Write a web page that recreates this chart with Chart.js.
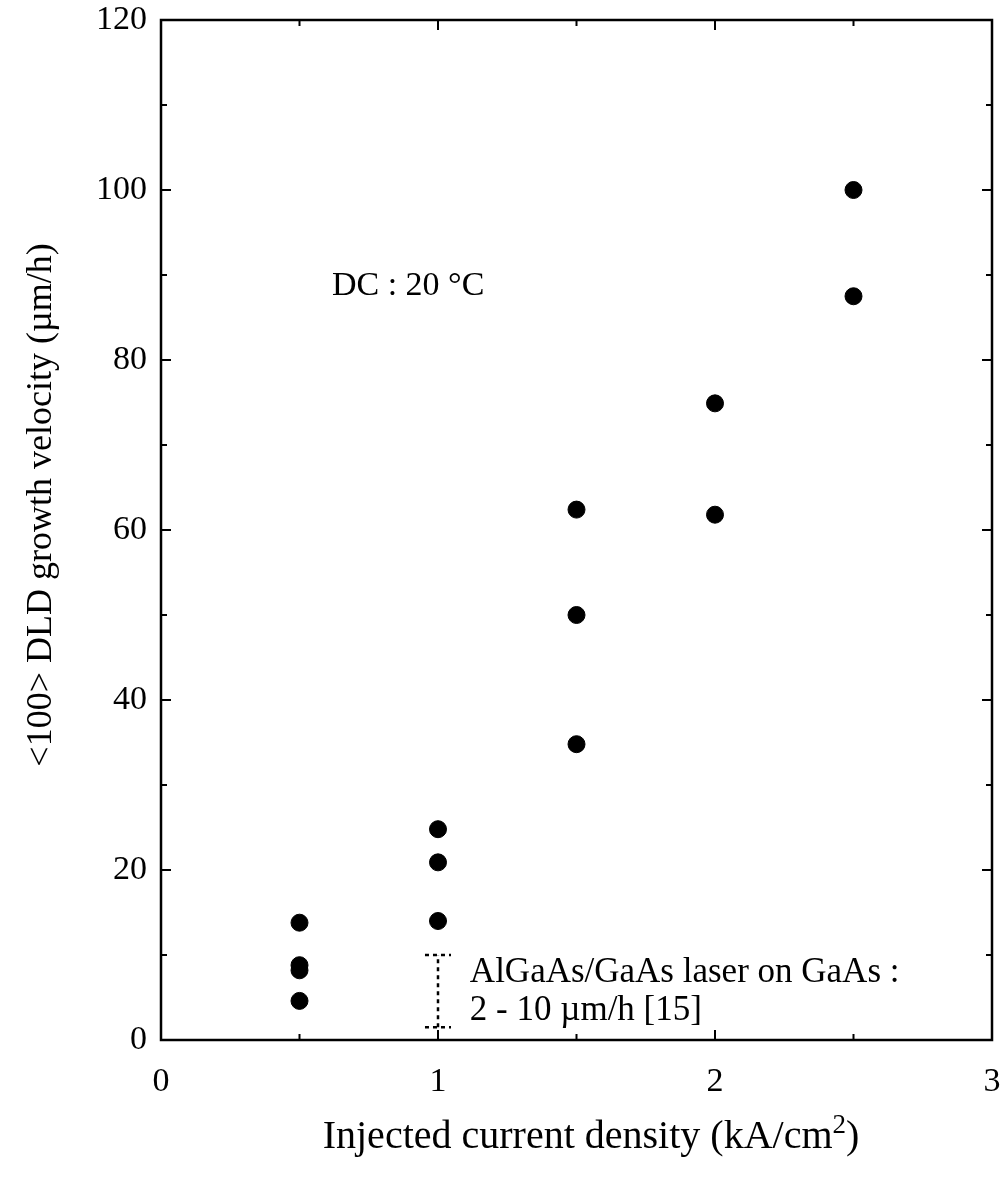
<!DOCTYPE html>
<html>
<head>
<meta charset="utf-8">
<script src="https://cdn.jsdelivr.net/npm/chart.js@4/dist/chart.umd.min.js"></script>
<style>
  body { margin: 0; background: #fff; }
  #wrap { width: 1005px; height: 1185px; position: relative; }
</style>
</head>
<body>
<div id="wrap"><canvas id="grafico"></canvas></div>
<script>
// valores
const densidade = [0.5, 0.5, 0.5, 0.5, 1, 1, 1, 1.5, 1.5, 1.5, 2, 2, 2.5, 2.5];
const velocidade = [13.8, 8.8, 8.2, 4.6, 24.8, 20.9, 14, 62.4, 50, 34.8, 74.9, 61.8, 100, 87.5];

// faixa da referência [15] (AlGaAs/GaAs em GaAs)
const refX = 1;
const refMin = 1.5;
const refMax = 10;
const refCap = 0.047;

const xTicks = [0, 1, 2, 3];
const yTicks = [0, 20, 40, 60, 80, 100, 120];

const fonte = "'Liberation Serif', 'Times New Roman', serif";

const pontos = densidade.map((d, i) => ({ x: d, y: velocidade[i] }));

// moldura e marcas internas nos quatro lados
const moldura = {
  id: 'moldura',
  afterDatasetsDraw(chart) {
    const { ctx, chartArea: a, scales: { x, y } } = chart;
    ctx.save();
    ctx.strokeStyle = '#000';
    ctx.lineWidth = 2.5;
    ctx.strokeRect(a.left, a.top, a.right - a.left, a.bottom - a.top);
    ctx.lineWidth = 2;
    for (let v = 0; v <= 120; v += 10) {
      const py = y.getPixelForValue(v);
      const len = v % 20 === 0 ? 10 : 6;
      ctx.beginPath();
      ctx.moveTo(a.left, py); ctx.lineTo(a.left + len, py);
      ctx.moveTo(a.right, py); ctx.lineTo(a.right - len, py);
      ctx.stroke();
    }
    for (let v = 0; v <= 3; v += 0.5) {
      const px = x.getPixelForValue(v);
      const len = v % 1 === 0 ? 10 : 6;
      ctx.beginPath();
      ctx.moveTo(px, a.bottom); ctx.lineTo(px, a.bottom - len);
      ctx.moveTo(px, a.top); ctx.lineTo(px, a.top + len);
      ctx.stroke();
    }

    // textos
    ctx.fillStyle = '#000';
    ctx.font = '34px ' + fonte;
    ctx.textBaseline = 'alphabetic';
    ctx.textAlign = 'left';
    ctx.fillText('DC : 20 °C', x.getPixelForValue(0.617), y.getPixelForValue(87.6));
    ctx.font = '35px ' + fonte;
    ctx.fillText('AlGaAs/GaAs laser on GaAs :', x.getPixelForValue(1.115), y.getPixelForValue(6.8));
    ctx.fillText('2 - 10 µm/h [15]', x.getPixelForValue(1.115), y.getPixelForValue(2.4));

    // título do eixo x com expoente
    const t1 = 'Injected current density (kA/cm';
    ctx.font = '40px ' + fonte;
    const w1 = ctx.measureText(t1).width;
    const w3 = ctx.measureText(')').width;
    ctx.font = '27px ' + fonte;
    const w2 = ctx.measureText('2').width;
    let px = 591 - (w1 + w2 + w3) / 2;
    const base = 1148;
    ctx.font = '40px ' + fonte;
    ctx.fillText(t1, px, base);
    ctx.font = '27px ' + fonte;
    ctx.fillText('2', px + w1, base - 15);
    ctx.font = '40px ' + fonte;
    ctx.fillText(')', px + w1 + w2, base);

    ctx.font = '36px ' + fonte;
    ctx.textAlign = 'center';
    ctx.textBaseline = 'middle';
    ctx.translate(42, 505);
    ctx.rotate(-Math.PI / 2);
    ctx.fillText('<100> DLD growth velocity (µm/h)', 0, 0);
    ctx.restore();
  }
};

const tracejado = {
  type: 'line',
  borderColor: '#000',
  borderWidth: 2.5,
  borderDash: [4, 4],
  pointRadius: 0,
  fill: false
};

new Chart(document.getElementById('grafico'), {
  type: 'scatter',
  data: {
    datasets: [
      {
        label: 'DLD',
        data: pontos,
        backgroundColor: '#000',
        borderColor: '#000',
        pointRadius: 8.5,
        pointHoverRadius: 8.5
      },
      Object.assign({ data: [{ x: refX, y: refMin }, { x: refX, y: refMax }] }, tracejado),
      Object.assign({ data: [{ x: refX - refCap, y: refMax }, { x: refX + refCap, y: refMax }] }, tracejado),
      Object.assign({ data: [{ x: refX - refCap, y: refMin }, { x: refX + refCap, y: refMin }] }, tracejado)
    ]
  },
  options: {
    responsive: true,
    maintainAspectRatio: false,
    animation: false,
    layout: { padding: { top: 20, right: 13, left: 0, bottom: 0 } },
    plugins: { legend: { display: false }, tooltip: { enabled: false } },
    scales: {
      x: {
        type: 'linear',
        min: 0, max: 3,
        afterBuildTicks: s => { s.ticks = xTicks.map(v => ({ value: v })); },
        afterFit: s => { s.height = 145; s.paddingLeft = 0; s.paddingRight = 0; },
        grid: { display: false, drawTicks: false },
        border: { display: false },
        ticks: { color: '#000', padding: 22, font: { family: fonte, size: 34 } }
      },
      y: {
        type: 'linear',
        min: 0, max: 120,
        afterBuildTicks: s => { s.ticks = yTicks.map(v => ({ value: v })); },
        afterFit: s => { s.width = 161; s.paddingTop = 0; s.paddingBottom = 0; },
        grid: { display: false, drawTicks: false },
        border: { display: false },
        ticks: { color: '#000', padding: 14, font: { family: fonte, size: 34 } }
      }
    }
  },
  plugins: [moldura]
});
</script>
</body>
</html>
